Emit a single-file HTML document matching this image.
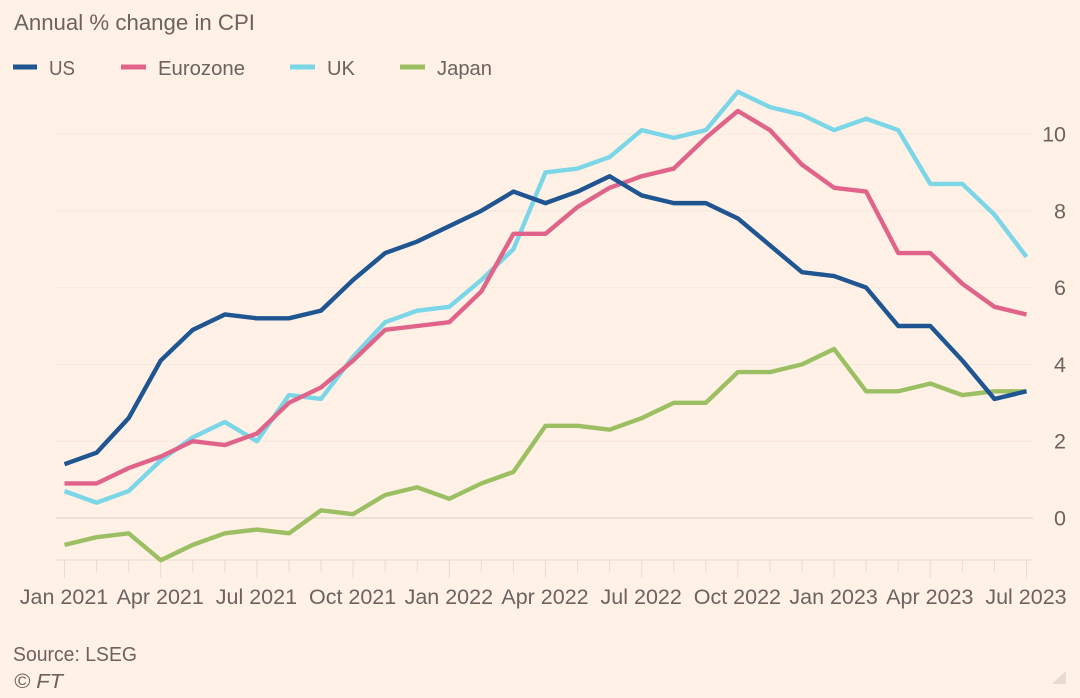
<!DOCTYPE html>
<html lang="en">
<head>
<meta charset="utf-8">
<title>Annual % change in CPI</title>
<style>
html,body{margin:0;padding:0;background:#fff1e6;}
svg{display:block;}
text{font-family:"Liberation Sans",sans-serif;fill:#6b6360;}
</style>
</head>
<body>
<svg id="chart" width="1080" height="698" viewBox="0 0 1080 698" xmlns="http://www.w3.org/2000/svg">
<rect width="1080" height="698" fill="#fff1e6"/>
<text x="14" y="30" font-size="22" textLength="241" lengthAdjust="spacingAndGlyphs">Annual % change in CPI</text>
<g>
<g><rect x="13" y="64.5" width="24" height="5" fill="#1f5591"/><text x="49" y="75" font-size="20" textLength="26" lengthAdjust="spacingAndGlyphs">US</text></g>
<g><rect x="121" y="64.5" width="25" height="5" fill="#e0648a"/><text x="158" y="75" font-size="20" textLength="87" lengthAdjust="spacingAndGlyphs">Eurozone</text></g>
<g><rect x="290" y="64.5" width="25" height="5" fill="#7bd6e8"/><text x="327" y="75" font-size="20" textLength="28" lengthAdjust="spacingAndGlyphs">UK</text></g>
<g><rect x="400" y="64.5" width="25" height="5" fill="#9dbf63"/><text x="437" y="75" font-size="20" textLength="55" lengthAdjust="spacingAndGlyphs">Japan</text></g>
</g>
<g id="grid"></g>
<g id="yaxis"></g>
<g id="xaxis"></g>
<g id="series"></g>
<text x="13" y="661" font-size="20" textLength="124" lengthAdjust="spacingAndGlyphs">Source: LSEG</text>
<text x="14" y="688" font-size="20" font-style="italic" textLength="49" lengthAdjust="spacingAndGlyphs">© FT</text>
<polygon points="1066,671 1066,684 1052,684" fill="#e8dcd2"/>
</svg>
<script>
const months = ["Jan 2021","Feb 2021","Mar 2021","Apr 2021","May 2021","Jun 2021","Jul 2021","Aug 2021","Sep 2021","Oct 2021","Nov 2021","Dec 2021","Jan 2022","Feb 2022","Mar 2022","Apr 2022","May 2022","Jun 2022","Jul 2022","Aug 2022","Sep 2022","Oct 2022","Nov 2022","Dec 2022","Jan 2023","Feb 2023","Mar 2023","Apr 2023","May 2023","Jun 2023","Jul 2023"];
const usValues = [1.4,1.7,2.6,4.1,4.9,5.3,5.2,5.2,5.4,6.2,6.9,7.2,7.6,8.0,8.5,8.2,8.5,8.9,8.4,8.2,8.2,7.8,7.1,6.4,6.3,6.0,5.0,5.0,4.1,3.1,3.3];
const eurozoneValues = [0.9,0.9,1.3,1.6,2.0,1.9,2.2,3.0,3.4,4.1,4.9,5.0,5.1,5.9,7.4,7.4,8.1,8.6,8.9,9.1,9.9,10.6,10.1,9.2,8.6,8.5,6.9,6.9,6.1,5.5,5.3];
const ukValues = [0.7,0.4,0.7,1.5,2.1,2.5,2.0,3.2,3.1,4.2,5.1,5.4,5.5,6.2,7.0,9.0,9.1,9.4,10.1,9.9,10.1,11.1,10.7,10.5,10.1,10.4,10.1,8.7,8.7,7.9,6.8];
const japanValues = [-0.7,-0.5,-0.4,-1.1,-0.7,-0.4,-0.3,-0.4,0.2,0.1,0.6,0.8,0.5,0.9,1.2,2.4,2.4,2.3,2.6,3.0,3.0,3.8,3.8,4.0,4.4,3.3,3.3,3.5,3.2,3.3,3.3];
const yTicks = [0,2,4,6,8,10];
const xTickLabels = ["Jan 2021","Apr 2021","Jul 2021","Oct 2021","Jan 2022","Apr 2022","Jul 2022","Oct 2022","Jan 2023","Apr 2023","Jul 2023"];

const NS = "http://www.w3.org/2000/svg";
const x = i => 64.5 + i * (1026.5 - 64.5) / (months.length - 1);
const y = v => 518 - v * 38.4;
const AXIS_Y = 560, LEFT = 56, RIGHT = 1033;

function make(tag, attrs, parent) {
  const el = document.createElementNS(NS, tag);
  for (const k in attrs) el.setAttribute(k, attrs[k]);
  parent.appendChild(el);
  return el;
}

const grid = document.getElementById("grid");
const yaxis = document.getElementById("yaxis");
yTicks.forEach(t => {
  const line = make("line", {x1: LEFT, x2: RIGHT, y1: y(t), y2: y(t), stroke: t === 0 ? "#d9cfc6" : "#f4e8dd", "stroke-width": 1}, grid);
  
  
  const label = make("text", {x: 1066, y: y(t) + 7.5, "font-size": 21.5, "text-anchor": "end"}, yaxis);
  
  
  label.textContent = t;
});

const xaxis = document.getElementById("xaxis");
const baseline = make("line", {x1: LEFT, x2: RIGHT, y1: AXIS_Y, y2: AXIS_Y, stroke: "#e4d9cf", "stroke-width": 1}, xaxis);


months.forEach((m, i) => {
  const major = xTickLabels.includes(m);
  const tick = make("line", {x1: x(i), x2: x(i), y1: AXIS_Y, y2: major ? 578 : 572, stroke: "#e8ddd3", "stroke-width": 1}, xaxis);
  
  
  if (major) {
    const label = make("text", {x: x(i) - 0.5, y: 604, "font-size": 21.5, "text-anchor": "middle"}, xaxis);
    
    
    label.textContent = m;
  }
});

const series = document.getElementById("series");
function drawLine(values, color, name) {
  const d = values.map((v, i) => (i ? "L" : "M") + x(i).toFixed(2) + " " + y(v).toFixed(2)).join("");
  const path = make("path", {d: d, fill: "none", stroke: color, "stroke-width": 4.4, "stroke-linejoin": "round"}, series);
  
  
}
drawLine(japanValues, "#9dbf63", "line-japan");
drawLine(ukValues, "#7bd6e8", "line-uk");
drawLine(eurozoneValues, "#e0648a", "line-eurozone");
drawLine(usValues, "#1f5591", "line-us");
</script>
</body>
</html>
